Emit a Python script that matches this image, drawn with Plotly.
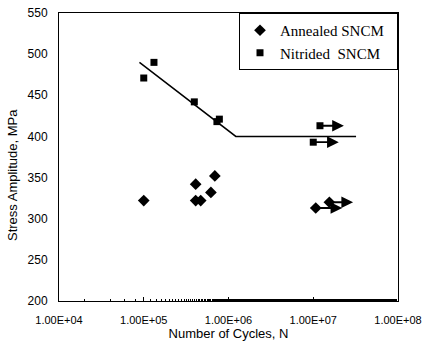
import math
import plotly.graph_objects as go

# ---- data ----
annealed_N = [1.0e5, 4.1e5, 4.1e5, 4.7e5, 6.2e5, 6.9e5, 1.07e7, 1.55e7]
annealed_S = [322, 342, 322, 322, 332, 352, 313, 320]
nitrided_N = [1.0e5, 1.32e5, 3.95e5, 7.3e5, 7.8e5, 1.2e7, 1.0e7]
nitrided_S = [471, 490, 442, 418, 421, 413, 393]

# run-outs (start N, end of arrow N, stress)
runout_start = [1.07e7, 1.55e7, 1.2e7, 1.0e7]
runout_end = [2.2e7, 2.95e7, 2.3e7, 2.0e7]
runout_S = [313, 320, 413, 393]

fit_N = [8.9e4, 1.22e6, 3.2e7]
fit_S = [490, 400, 400]

x_tickvals = [1e4, 1e5, 1e6, 1e7, 1e8]
x_ticktext = ["1.00E+04", "1.00E+05", "1.00E+06", "1.00E+07", "1.00E+08"]
y_tickvals = [200, 250, 300, 350, 400, 450, 500, 550]

fig = go.Figure()

fig.add_trace(go.Scatter(
    x=fit_N, y=fit_S, mode="lines",
    line=dict(color="black", width=1.5), showlegend=False, hoverinfo="skip"))

fig.add_trace(go.Scatter(
    x=annealed_N, y=annealed_S, mode="markers", name="Annealed SNCM\u00a0\u00a0",
    marker=dict(symbol="diamond", size=9, color="black")))
fig.add_trace(go.Scatter(
    x=nitrided_N, y=nitrided_S, mode="markers", name="Nitrided  SNCM",
    marker=dict(symbol="square", size=7, color="black")))

for s, e, v in zip(runout_start, runout_end, runout_S):
    fig.add_annotation(
        x=math.log10(e), y=v, ax=math.log10(s), ay=v,
        xref="x", yref="y", axref="x", ayref="y",
        showarrow=True, arrowhead=2, arrowsize=1.3, arrowwidth=1.8,
        arrowcolor="black", text="")

# y-axis title as an annotation (placed lower than the plot centre, as in the reference)
fig.add_annotation(
    x=-0.1386, y=0.4375, xref="paper", yref="paper",
    text="Stress Amplitude, MPa", textangle=-90, showarrow=False,
    font=dict(size=13), xanchor="center", yanchor="middle")

fig.update_layout(
    width=426, height=348,
    margin=dict(l=59, r=28, t=13, b=47, autoexpand=False),
    plot_bgcolor="white", paper_bgcolor="white",
    font=dict(family="Liberation Sans, Arial", color="black", size=12),
    legend=dict(
        x=1, xanchor="right", y=1, yanchor="top",
        bgcolor="white", bordercolor="black", borderwidth=1,
        font=dict(family="Liberation Serif, Times New Roman", size=15),
        itemwidth=30, tracegroupgap=0,
    ),
)

fig.update_xaxes(
    type="log", range=[4, 8],
    tickvals=x_tickvals, ticktext=x_ticktext,
    tickfont=dict(size=11), automargin=False,
    showline=True, linecolor="black", linewidth=1, mirror=True,
    showgrid=False, zeroline=False,
    ticks="inside", ticklen=4, tickcolor="black", ticklabelstandoff=9,
    minor=dict(ticks="inside", ticklen=2, tickcolor="black", showgrid=False),
    title=dict(text="Number of Cycles, N", font=dict(size=13), standoff=1),
)
fig.update_yaxes(
    range=[200, 550], tickvals=y_tickvals,
    tickfont=dict(size=12), automargin=False,
    showline=True, linecolor="black", linewidth=1, mirror=True,
    showgrid=False, zeroline=False,
    ticks="", ticklabelstandoff=8,
)

fig.write_html("out.html", config={"displayModeBar": False},
               post_script="document.body.style.margin='0';")
